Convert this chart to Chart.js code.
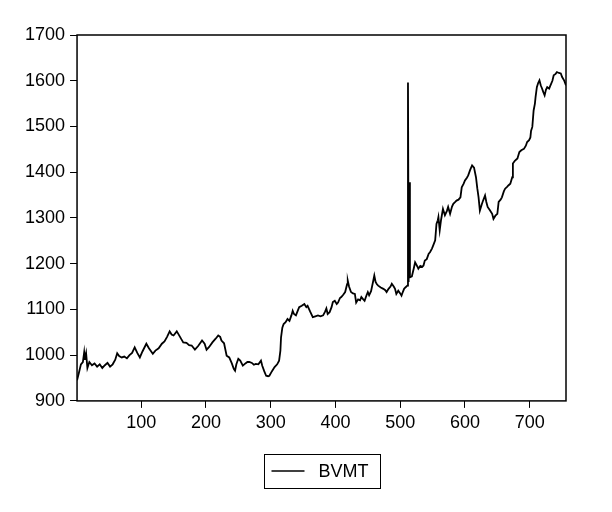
<!DOCTYPE html>
<html>
<head>
<meta charset="utf-8">
<script src="https://cdn.jsdelivr.net/npm/chart.js@4/dist/chart.umd.min.js"></script>
<style>
  body { margin: 0; background: #fff; }
</style>
</head>
<body>
<canvas id="bvmtChart" width="612" height="512"></canvas>
<script>
const dayIndex = [
  1, 4, 7, 10, 12, 13, 15, 17, 20, 24, 28, 32, 36, 40, 44, 48, 52, 56, 60, 63,
  66, 70, 74, 78, 82, 86, 90, 94, 98, 102, 108, 112, 118, 122, 127, 132, 136, 140, 144, 147,
  150, 155, 158, 162, 165, 170, 174, 178, 183, 188, 194, 198, 201, 205, 210, 215, 219, 222, 224, 228,
  232, 236, 240, 243, 245, 247, 250, 253, 257, 261, 264, 267, 271, 274, 277, 281, 285, 287, 290, 293,
  296, 298, 302, 306, 310, 313, 315, 316, 318, 320, 323, 326, 329, 332, 334, 336, 339, 342, 344, 348,
  352, 355, 357, 361, 365, 369, 373, 377, 381, 384, 386, 388, 391, 394, 396, 399, 402, 404, 407, 409,
  412, 415, 418, 419, 421, 424, 427, 430, 432, 435, 438, 440, 443, 445, 448, 450, 452, 455, 458, 460,
  462, 464, 466, 470, 474, 477, 479, 482, 485, 487, 490, 492, 494, 497, 500, 502, 504, 506, 508, 511,
  512, 513, 514, 515, 518, 521, 523, 526, 528, 531, 534, 536, 538, 541, 544, 546, 549, 551, 554, 556,
  558, 559, 561, 563, 566, 569, 572, 574, 577, 580, 582, 585, 587, 590, 593, 595, 598, 600, 603, 605,
  608, 611, 614, 617, 619, 621, 623, 626, 628, 631, 633, 635, 638, 642, 644, 647, 650, 652, 655, 657,
  660, 662, 665, 667, 670, 673, 674, 677, 681, 684, 687, 691, 694, 696, 699, 701, 702, 704, 706, 708,
  709, 711, 713, 715, 717, 719, 721, 723, 725, 727, 730, 732, 735, 737, 740, 742, 745, 748, 750, 753,
  756
];
const bvmtValues = [
  945, 962, 980, 985, 1006, 990, 1004, 972, 985, 978, 982, 975, 980, 972, 978, 983, 975, 980, 990, 1004,
  998, 995, 997, 993, 1000, 1005, 1017, 1005, 995, 1008, 1025, 1015, 1003, 1010, 1015, 1025, 1030, 1040, 1052, 1045,
  1043, 1052, 1045, 1035, 1028, 1027, 1022, 1021, 1012, 1020, 1032, 1025, 1012, 1018, 1028, 1036, 1043, 1040, 1032, 1026,
  999, 995, 982, 970, 966, 980, 992, 988, 977, 982, 985, 985, 983, 979, 981, 980, 988, 977, 965, 955,
  954, 955, 965, 974, 980, 988, 1010, 1039, 1060, 1068, 1072, 1079, 1075, 1087, 1097, 1090, 1087, 1098, 1105, 1108,
  1112, 1105, 1108, 1095, 1083, 1085, 1087, 1085, 1087, 1095, 1102, 1090, 1094, 1105, 1116, 1119, 1112, 1115, 1125, 1127,
  1132, 1138, 1155, 1163, 1150, 1138, 1135, 1134, 1115, 1122, 1120, 1127, 1122, 1119, 1131, 1138, 1131, 1140, 1160, 1174,
  1160, 1155, 1152, 1148, 1145, 1142, 1138, 1145, 1150, 1156, 1150, 1145, 1134, 1141, 1135, 1130, 1138, 1145, 1148, 1152,
  1596, 1160, 1378, 1170, 1172, 1190, 1203, 1195, 1189, 1195, 1193, 1196, 1207, 1210, 1222, 1225, 1233, 1240, 1251, 1287,
  1295, 1302, 1273, 1295, 1320, 1306, 1315, 1324, 1309, 1325, 1331, 1335, 1338, 1340, 1345, 1367, 1375, 1382, 1388, 1393,
  1405, 1415, 1410, 1389, 1365, 1345, 1316, 1330, 1338, 1349, 1335, 1324, 1318, 1309, 1298, 1305, 1309, 1335, 1340, 1345,
  1358, 1364, 1368, 1371, 1375, 1389, 1419, 1425, 1430, 1444, 1448, 1451, 1458, 1466, 1470, 1476, 1490, 1499, 1535, 1550,
  1564, 1586, 1595, 1601, 1590, 1583, 1575, 1568, 1580, 1586, 1583, 1590, 1600, 1612, 1615, 1619, 1617, 1616, 1608, 1601,
  1590
];
const xTickValues = [100, 200, 300, 400, 500, 600, 700];
const yTickValues = [900, 1000, 1100, 1200, 1300, 1400, 1500, 1600, 1700];
const seriesName = 'BVMT';

const ctx = document.getElementById('bvmtChart').getContext('2d');
const fontFamily = '"Liberation Sans", Arial, sans-serif';

// box around the plot + the boxed legend under it
const frameAndLegend = {
    id: 'frameAndLegend',
    afterDraw(chart) {
        const c = chart.ctx;
        const a = chart.chartArea;
        c.save();
        c.strokeStyle = '#000';
        c.lineWidth = 1.5;
        c.strokeRect(a.left, a.top, a.right - a.left, a.bottom - a.top);

        const cx = (a.left + a.right) / 2;
        const boxW = 116, boxH = 34, boxTop = 454;
        const boxLeft = Math.round(cx - boxW / 2) + 0.5;
        c.lineWidth = 1;
        c.strokeRect(boxLeft, boxTop + 0.5, boxW, boxH);

        const midY = boxTop + boxH / 2;
        c.lineWidth = 1.5;
        c.beginPath();
        c.moveTo(boxLeft + 7, midY);
        c.lineTo(boxLeft + 40, midY);
        c.stroke();

        c.fillStyle = '#000';
        c.font = '18px ' + fontFamily;
        c.textBaseline = 'middle';
        c.fillText(seriesName, boxLeft + 54, midY + 1);
        c.restore();
    }
};

new Chart(ctx, {
    type: 'line',
    data: {
        datasets: [
            {
                label: seriesName,
                data: dayIndex.map((d, i) => ({ x: d, y: bvmtValues[i] })),
                borderColor: '#000',
                borderWidth: 1.8,
                pointRadius: 0,
                tension: 0,
                fill: false,
            }
        ]
    },
    options: {
        responsive: false,
        animation: false,
        layout: {
            padding: { left: 20, right: 46, top: 35, bottom: 74.5 }
        },
        scales: {
            x: {
                type: 'linear',
                min: 1,
                max: 756,
                afterBuildTicks: scale => {
                    scale.ticks = xTickValues.map(v => ({ value: v }));
                },
                grid: { drawOnChartArea: false, drawTicks: true, tickLength: 7, color: '#000', lineWidth: 1 },
                border: { display: false },
                ticks: {
                    autoSkip: false,
                    maxRotation: 0,
                    padding: 4,
                    color: '#000',
                    font: { family: fontFamily, size: 18 },
                    callback: v => String(v),
                },
            },
            y: {
                min: 900,
                max: 1700,
                afterBuildTicks: scale => {
                    scale.ticks = yTickValues.map(v => ({ value: v }));
                },
                grid: { drawOnChartArea: false, drawTicks: true, tickLength: 7, color: '#000', lineWidth: 1 },
                border: { display: false },
                ticks: {
                    padding: 5,
                    color: '#000',
                    font: { family: fontFamily, size: 18 },
                    callback: v => String(v),
                },
            }
        },
        plugins: {
            legend: { display: false },
            tooltip: { enabled: false },
        },
    },
    plugins: [frameAndLegend]
});
</script>
</body>
</html>
